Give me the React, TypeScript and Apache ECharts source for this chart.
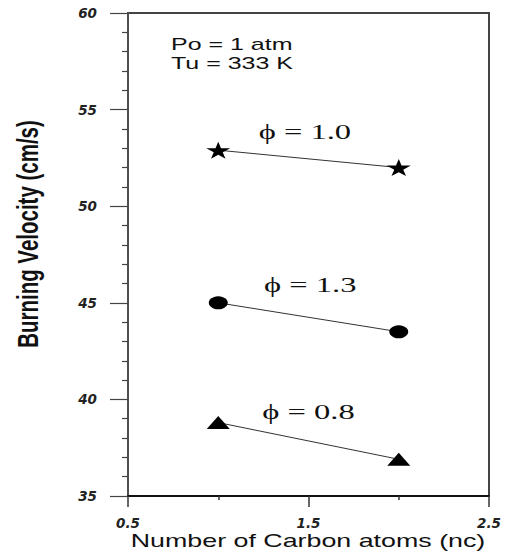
import React, { useEffect, useRef } from "react";
import * as echarts from "echarts";

const carbonAtoms = [1, 2];
const phi10Velocity = [52.9, 52.0];
const phi13Velocity = [45.0, 43.5];
const phi08Velocity = [38.8, 36.9];
const yMin = 35;
const yMax = 60;
const yStep = 5;
const xMin = 0.5;
const xMax = 2.5;
const xMajorTicks = [0.5, 1.5, 2.5];
const xMinorTicks = [1, 2];
const phiLabels = ["ϕ = 1.0", "ϕ = 1.3", "ϕ = 0.8"];
const phiLabelX = [1.48, 1.51, 1.5];
const phiLabelY = [53.85, 45.9, 39.35];
const conditionLines = ["Po = 1 atm", "Tu = 333 K"];
const xTitle = "Number of Carbon atoms (nc)";
const yTitle = "Burning Velocity (cm/s)";

const STAR =
  "path://M50,0 L61,35 L98,35 L68,57 L79,91 L50,70 L21,91 L32,57 L2,35 L39,35 Z";

export default function App() {
  const ref = useRef<HTMLDivElement>(null);

  useEffect(() => {
    document.body.style.margin = "0";
    if (!ref.current) return;
    const chart = echarts.init(ref.current, null, { renderer: "svg" });
    const pair = (ys: number[]) => carbonAtoms.map((x, i) => [x, ys[i]]);
    const lineStyle = { color: "#333", width: 1 };
    const axisLabelFont = {
      fontFamily: "'DejaVu Sans', sans-serif",
      fontWeight: "bold" as const,
      fontStyle: "italic" as const,
      fontSize: 13.5,
      color: "#222",
    };
    chart.setOption({
      animation: false,
      backgroundColor: "#fff",
      grid: {
        left: 128,
        right: 19,
        top: 13,
        bottom: 58,
        show: true,
        borderColor: "#444",
        borderWidth: 2,
        containLabel: false,
      },
      xAxis: [
        {
          type: "value",
          min: xMin,
          max: xMax,
          interval: 0.5,
          position: "bottom",
          axisLine: { show: true, lineStyle: { color: "#111", width: 2 } },
          axisTick: {
            show: true,
            customValues: xMajorTicks,
            length: 11,
            lineStyle: { color: "#333", width: 1.5 },
          },
          axisLabel: { ...axisLabelFont, customValues: xMajorTicks, margin: 20 },
          splitLine: { show: false },
        },
        {
          type: "value",
          min: xMin,
          max: xMax,
          interval: 0.5,
          position: "bottom",
          axisLine: { show: false },
          axisTick: {
            show: true,
            customValues: xMinorTicks,
            length: 4,
            lineStyle: { color: "#333", width: 1.5 },
          },
          axisLabel: { show: false },
          splitLine: { show: false },
        },
      ],
      yAxis: {
        type: "value",
        min: yMin,
        max: yMax,
        interval: yStep,
        axisLine: { show: true, lineStyle: { color: "#555", width: 1.5 } },
        axisTick: { show: true, length: 18, lineStyle: { color: "#444", width: 1.2 } },
        minorTick: { show: true, splitNumber: 5, length: 6, lineStyle: { color: "#444", width: 1.2 } },
        axisLabel: { ...axisLabelFont, margin: 31 },
        splitLine: { show: false },
      },
      series: [
        {
          type: "line",
          data: pair(phi10Velocity),
          symbol: STAR,
          symbolSize: [24, 17],
          symbolKeepAspect: false,
          itemStyle: { color: "#000" },
          lineStyle,
        },
        {
          type: "line",
          data: pair(phi13Velocity),
          symbol: "circle",
          symbolSize: [19, 13],
          itemStyle: { color: "#000" },
          lineStyle,
        },
        {
          type: "line",
          data: pair(phi08Velocity),
          symbol: "triangle",
          symbolSize: [23, 13],
          itemStyle: { color: "#000" },
          lineStyle,
        },
      ],
    });

    const graphics: any[] = [];
    phiLabels.forEach((t, i) => {
      const [px, py] = chart.convertToPixel({ gridIndex: 0 }, [phiLabelX[i], phiLabelY[i]]);
      graphics.push({
        type: "text",
        x: px,
        y: py,
        scaleX: 1.55,
        style: {
          text: t,
          fontFamily: "'Liberation Serif', 'DejaVu Serif', serif",
          fontSize: 21,
          fill: "#111",
          align: "center",
          verticalAlign: "middle",
        },
      });
    });
    conditionLines.forEach((t, i) => {
      graphics.push({
        type: "text",
        x: 171,
        y: 44 + i * 19.5,
        scaleX: 1.47,
        style: {
          text: t,
          fontFamily: "'Liberation Sans', Arial, sans-serif",
          fontSize: 17,
          fill: "#111",
          align: "left",
          verticalAlign: "middle",
        },
      });
    });
    graphics.push({
      type: "text",
      x: 308,
      y: 541,
      scaleX: 1.49,
      style: {
        text: xTitle,
        fontFamily: "'Liberation Sans', Arial, sans-serif",
        fontSize: 18,
        fill: "#111",
        align: "center",
        verticalAlign: "middle",
      },
    });
    graphics.push({
      type: "text",
      x: 28,
      y: 234,
      rotation: Math.PI / 2,
      scaleY: 1.4,
      style: {
        text: yTitle,
        fontFamily: "'Liberation Sans', Arial, sans-serif",
        fontWeight: "bold",
        fontSize: 20.5,
        fill: "#111",
        align: "center",
        verticalAlign: "middle",
      },
    });
    chart.setOption({ graphic: graphics });

    return () => chart.dispose();
  }, []);

  return <div ref={ref} style={{ width: 508, height: 554 }} />;
}
